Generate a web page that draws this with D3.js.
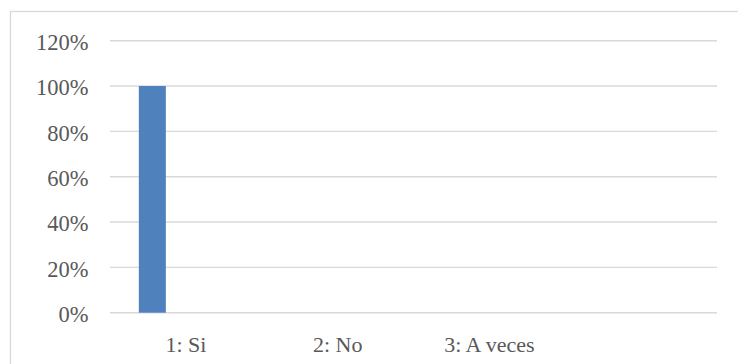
<!DOCTYPE html>
<html>
<head>
<meta charset="utf-8">
<script src="https://cdn.jsdelivr.net/npm/d3@7"></script>
<style>
  html, body { margin: 0; padding: 0; background: #fff; }
  svg { display: block; }
  text { font-family: "Liberation Serif", "DejaVu Serif", serif; fill: #595959; }
</style>
</head>
<body>
<svg id="chart" width="738" height="364"></svg>
<script>
// ---- data ----
const categories = ["1: Si", "2: No", "3: A veces", ""];
const values = [1.0, 0, 0, 0];
const yTicks = [0, 0.2, 0.4, 0.6, 0.8, 1.0, 1.2];

// ---- layout ----
const plot = { left: 110, right: 717, top: 40.7, bottom: 312.7 };

const svg = d3.select("#chart");

// outer chart border (cropped at right/bottom like the reference)
svg.append("rect")
  .attr("x", 10.5).attr("y", 11.5)
  .attr("width", 760).attr("height", 400)
  .attr("fill", "#fff")
  .attr("stroke", "#d9d9d9").attr("stroke-width", 1.3);

const x = d3.scaleBand().domain(categories).range([plot.left, plot.right]).padding(0);
const y = d3.scaleLinear().domain([0, 1.2]).range([plot.bottom, plot.top]);

// gridlines
svg.append("g").selectAll("line").data(yTicks).join("line")
  .attr("x1", plot.left).attr("x2", plot.right)
  .attr("y1", d => y(d)).attr("y2", d => y(d))
  .attr("stroke", "#d9d9d9").attr("stroke-width", 1.4);

// y axis labels
const yAxis = d3.axisLeft(y).tickValues(yTicks).tickFormat(d3.format(".0%")).tickSize(0).tickPadding(0);
const gy = svg.append("g").attr("transform", `translate(88.5,0)`).call(yAxis);
gy.select(".domain").remove();
gy.selectAll("text")
  .attr("font-size", 22.5)
  .attr("fill", "#595959")
  .attr("font-family", "Liberation Serif, DejaVu Serif, serif")
  .attr("dy", "0.35em")
  .attr("y", 1);

// bars
const barOffset = 0.19, barFrac = 0.178;
svg.append("g").selectAll("rect").data(values.map((v, i) => ({ c: categories[i], v })))
  .join("rect")
  .attr("x", d => x(d.c) + x.bandwidth() * barOffset)
  .attr("width", x.bandwidth() * barFrac)
  .attr("y", d => y(d.v))
  .attr("height", d => y(0) - y(d.v))
  .attr("fill", "#4f81bd");

// x axis labels
const xAxis = d3.axisBottom(x).tickSize(0).tickPadding(0);
const gx = svg.append("g").attr("transform", `translate(0,${plot.bottom})`).call(xAxis);
gx.select(".domain").remove();
gx.selectAll("text")
  .attr("font-size", 22)
  .attr("fill", "#595959")
  .attr("font-family", "Liberation Serif, DejaVu Serif, serif")
  .attr("dy", 0)
  .attr("y", 39);
</script>
</body>
</html>
